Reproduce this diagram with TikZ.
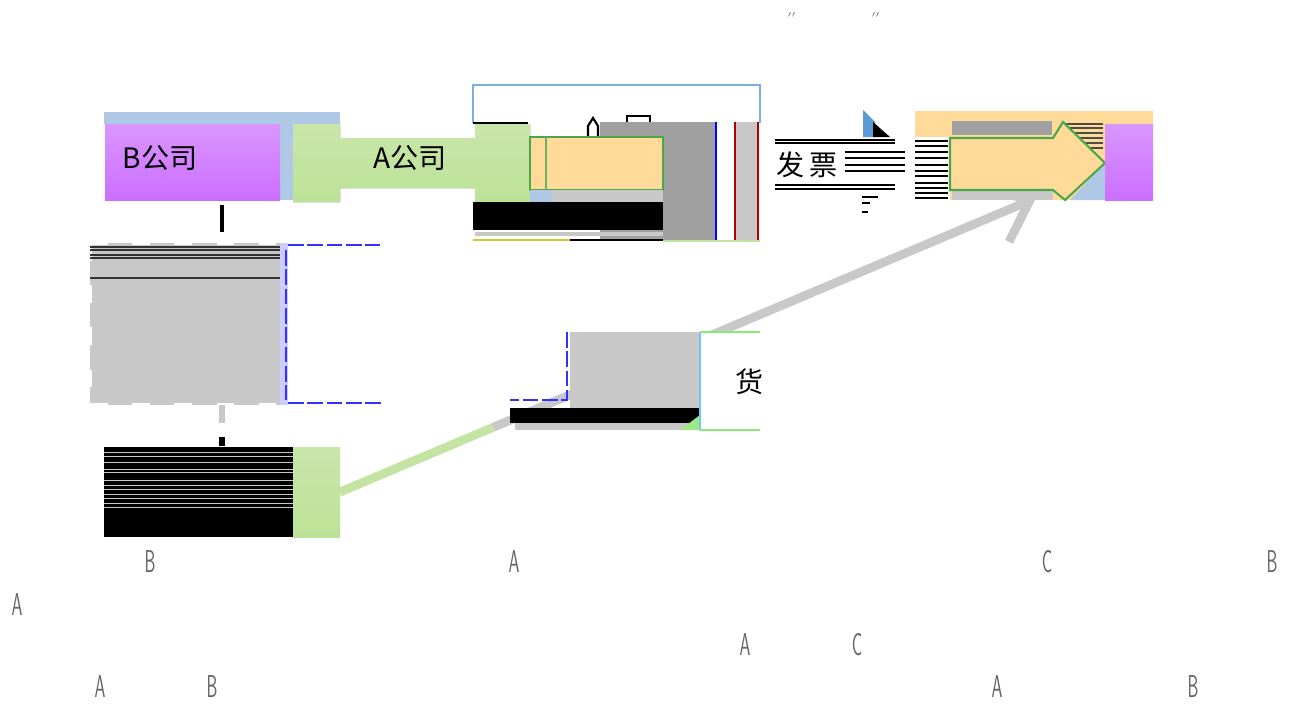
\documentclass[tikz,border=0pt]{standalone}
\usepackage{fontspec}
\newfontfamily\cjk{Noto Sans CJK SC}
\usetikzlibrary{calc,arrows.meta}

\definecolor{barblue}{RGB}{175,200,230}
\definecolor{comgreen}{RGB}{196,228,164}
\definecolor{flowgold}{RGB}{255,218,153}
\definecolor{paleg}{RGB}{200,200,200}
\definecolor{midg}{RGB}{160,160,160}
\definecolor{tipblue}{RGB}{91,155,213}
\definecolor{crenblue}{RGB}{50,50,255}
\definecolor{letgray}{RGB}{100,100,100}

\tikzset{
  title/.style={font=\cjk\fontsize{16}{16}\selectfont, text=black, inner sep=0pt},
  letter/.style={font=\sffamily\fontsize{18}{18}\selectfont, text=letgray, xscale=0.55, inner sep=0pt},
  cren/.style={crenblue, line width=1pt, dash pattern=on 9pt off 2pt},
}

\begin{document}
\begin{tikzpicture}[x=0.02cm, y=-0.02cm]
    \useasboundingbox (0,0) rectangle (1296,707);

    % the long connector goes first, the boxes hide part of it
    \coordinate (GreenOut) at (340,492);
    \coordinate (ArrowTip) at (1036,198);
    \draw[comgreen, line width=5pt] (GreenOut) -- ($(GreenOut)!0.22!(ArrowTip)$);
    \draw[paleg, line width=5pt, -{Straight Barb[length=20pt,width=34pt]}]
         ($(GreenOut)!0.22!(ArrowTip)$) -- (ArrowTip);

    % top row: B company, A company
    \fill[barblue] (104,112) rectangle (340,124);
    \fill[barblue] (280,124) rectangle (293,200);
    \fill[top color={rgb,255:red,218;green,150;blue,255}, bottom color={rgb,255:red,204;green,110;blue,255}]
         (105,124) rectangle (280,200);
    \node[title] (bcom) at (160,158) {B公司};
    \fill[top color={rgb,255:red,200;green,230;blue,170}, bottom color={rgb,255:red,188;green,226;blue,150}]
         (293,124) -- (340,124) -- (340,138) -- (475,138) -- (475,124) -- (530,124)
         -- (530,202) -- (475,202) -- (475,188) -- (340,188) -- (340,202) -- (293,202) -- cycle;
    \node[title] (acom) at (410,158) {A公司};

    % block right of A company
    \draw[tipblue!80, line width=0.8pt] (473,123) -- (473,85) -- (760,85) -- (760,123);
    \draw[black, line width=0.8pt] (473,123) -- (528,123);
    \fill[midg] (600,122) rectangle (716,240);
    \fill[paleg] (736,122) rectangle (758,240);
    \draw[blue, line width=0.8pt] (716,122) -- (716,240);
    \draw[red!70!black, line width=0.8pt] (735,122) -- (735,240) (758,122) -- (758,240);
    \draw[black, line width=1.2pt] (588,137) -- (588,126) -- (593,118) -- (598,126) -- (598,137);
    \draw[black, line width=1pt] (627,122) -- (627,116) -- (650,116) -- (650,122);
    \filldraw[fill=flowgold, draw=green!50!black!70, line width=1pt] (530,137) rectangle (663,190);
    \draw[green!50!black!60, line width=0.6pt] (546,137) -- (546,190);
    \fill[barblue] (530,190) rectangle (552,202);
    \fill[paleg] (552,190) rectangle (663,202);
    \fill[black] (473,202) rectangle (663,230);
    \fill[paleg] (475,232) rectangle (663,236);
    \draw[yellow!80!black, line width=1pt] (473,240) -- (570,240);
    \draw[black, line width=1pt] (570,240) -- (663,240);
    \draw[comgreen, line width=1.2pt] (663,241) -- (760,241);

    % invoice label and its noise
    \foreach \yy in {140,143,185,189} {
      \draw[black, line width=0.7pt] (775,\yy) -- (895,\yy);
    }
    \foreach \yy in {152,158,165,171} {
      \draw[black, line width=0.7pt] (845,\yy) -- (905,\yy);
    }
    \foreach \yy in {141,146,152,158,165,171,176,183,188,193,198} {
      \draw[black, line width=0.7pt] (915,\yy) -- (948,\yy);
    }
    \draw[black, line width=0.7pt] (862,197) -- (878,197) (862,203) -- (870,203) (862,212) -- (868,212);
    \node[title] (fapiao) at (807,165) {发\,票};
    \fill[tipblue] (863,110) -- (875,122) -- (875,137) -- (863,137) -- cycle;
    \fill[black] (873,122) -- (890,137) -- (873,137) -- cycle;

    % right block: arrow into B company
    \fill[flowgold] (915,111) rectangle (1153,137);
    \fill[flowgold] (950,137) rectangle (1105,200);
    \fill[midg] (952,121) rectangle (1052,135);
    \foreach \yy in {124,128,133,138,143,148} {
      \draw[black!70, line width=0.6pt] (1065,\yy) -- (1103,\yy);
    }
    \fill[barblue] (1070,200) -- (1105,163) -- (1105,200) -- cycle;
    \fill[paleg] (952,190) rectangle (1053,200);
    \filldraw[fill=flowgold, draw=green!50!black!70, line width=1.2pt]
         (950,138) -- (1053,138) -- (1063,122) -- (1105,163) -- (1065,200) -- (1053,190) -- (950,190) -- cycle;
    \fill[top color={rgb,255:red,218;green,150;blue,255}, bottom color={rgb,255:red,204;green,110;blue,255}]
         (1105,124) rectangle (1153,200);

    % left column
    \fill[black] (220,205) rectangle (224,232);
    \fill[paleg] (90,243) rectangle (285,405);
    \draw[white, line width=2pt, dash pattern=on 10pt off 14pt] (90,243) -- (285,243) (90,405) -- (285,405) (90,243) -- (90,405);
    \foreach \yy in {247,250,255,258,278} {
      \draw[black!80, line width=0.6pt] (90,\yy) -- (280,\yy);
    }
    \fill[blue!20] (280,243) rectangle (288,405);
    \draw[cren] (288,245) -- (380,245) (288,403) -- (382,403) (286,250) -- (286,400);
    \fill[paleg] (219,405) rectangle (225,423);
    \fill[black] (219,437) rectangle (225,446);

    % green box with the black block
    \fill[black] (104,447) rectangle (293,537);
    \foreach \yy in {452,456,462,469,472,480,485,489,494,498,503,507} {
      \draw[paleg, line width=0.5pt] (104,\yy) -- (293,\yy);
    }
    \fill[top color={rgb,255:red,200;green,230;blue,170}, bottom color={rgb,255:red,188;green,226;blue,150}]
         (293,447) rectangle (340,537);

    % middle block with the goods label
    \fill[paleg] (570,332) rectangle (700,408);
    \draw[cren] (567,332) -- (567,400) -- (510,400);
    \fill[black] (510,408) rectangle (700,423);
    \fill[paleg] (515,423) rectangle (700,430);
    \fill[comgreen!80!green] (680,430) -- (700,415) -- (700,430) -- cycle;
    \fill[white] (700,332) rectangle (760,430);
    \draw[comgreen!70!green, line width=1pt] (700,332) -- (760,332) (700,430) -- (760,430);
    \draw[cyan!60, line width=0.8pt] (700,332) -- (700,430);
    \node[title] (huo) at (750,382) {货};

    % stray marks and letters
    \node[font=\scriptsize, text=letgray, inner sep=0pt] (qopen) at (792,18) {$''$};
    \node[font=\scriptsize, text=letgray, inner sep=0pt] (qclose) at (876,18) {$''$};
    \foreach \ch/\px/\py [count=\i] in {B/150/562, A/514/562, C/1047/562, B/1272/562, A/17/605,
        A/745/645, C/857/645, A/100/687, B/212/687, A/997/687, B/1193/687} {
      \node[letter] (let\i) at (\px,\py) {\ch};
    }
\end{tikzpicture}
\end{document}
